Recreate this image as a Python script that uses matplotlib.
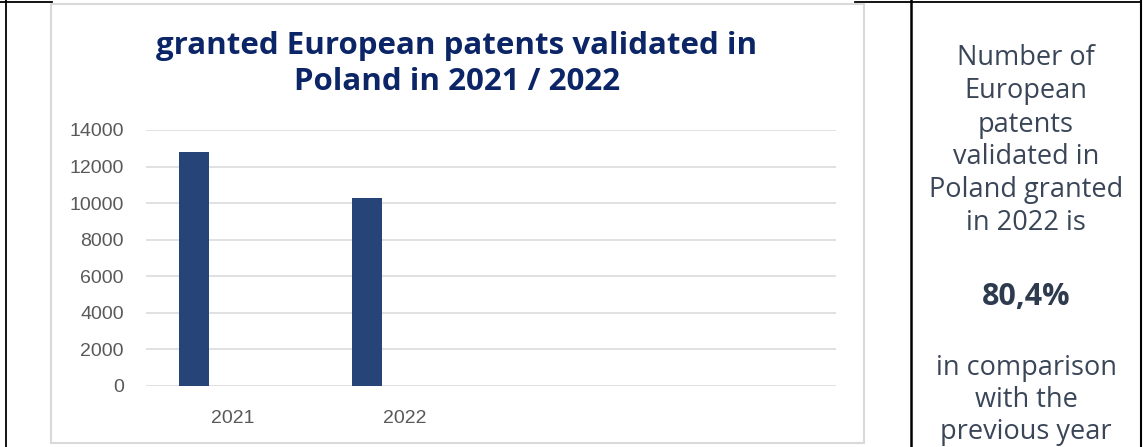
import matplotlib
matplotlib.use("Agg")
import matplotlib.pyplot as plt
from matplotlib.patches import Rectangle
from matplotlib.lines import Line2D

# ---- data ----
categories = ["2021", "2022", "", ""]
values = [12800, 10290]
yticks = [0, 2000, 4000, 6000, 8000, 10000, 12000, 14000]
title = "granted European patents validated in\nPoland in 2021 / 2022"
side_lines_top = ["Number of", "European", "patents", "validated in", "Poland granted", "in 2022 is"]
side_pct = "80,4%"
side_lines_bottom = ["in comparison", "with the", "previous year"]

W, H = 1143, 447
fig = plt.figure(figsize=(W / 100, H / 100), dpi=100)
fig.patch.set_facecolor("white")

def fx(px):
    return px / W

def fy(py):
    return 1 - py / H

# table borders (black)
for (x0, y0, x1, y1, lw) in [
    (6, 0, 6, H, 1.3),
    (911, 0, 911, H, 1.8),
    (1141, 0, 1141, H, 1.5),
    (0, 2, 52, 2, 1.3),
    (855, 2, 1141, 2, 1.3),
]:
    fig.add_artist(Line2D([fx(x0), fx(x1)], [fy(y0), fy(y1)], color="black", lw=lw,
                          transform=fig.transFigure, zorder=-2))

# chart box
fig.add_artist(Rectangle((fx(51), fy(443)), fx(864) - fx(51), fy(4) - fy(443),
                         transform=fig.transFigure, facecolor="white",
                         edgecolor="#d9d9d9", lw=1.5, zorder=-1))

ax = fig.add_axes([fx(146), fy(386), fx(836) - fx(146), fy(130) - fy(386)])
ax.set_zorder(1)
ax.set_facecolor("none")
xs = list(range(len(categories)))
bar_x = [x - 0.22 for x in xs[:len(values)]]
ax.bar(bar_x, values, width=0.174, color="#264478", zorder=3)
ax.set_xlim(-0.5, len(categories) - 0.5)
ax.set_ylim(0, 14000)
ax.set_yticks(yticks)
ax.set_yticklabels([str(v) for v in yticks], fontfamily="Liberation Sans", fontsize=14, color="#595959")
ax.set_xticks(xs)
ax.set_xticklabels(categories, fontfamily="Liberation Sans", fontsize=14, color="#595959")
ax.tick_params(axis="y", length=0, pad=16)
ax.tick_params(axis="x", length=0, pad=17)
ax.grid(axis="y", color="#d9d9d9", lw=1.1, zorder=0)
for s in ax.spines.values():
    s.set_visible(False)

# title
fig.text(fx(457), fy(64), title, ha="center", va="center", fontfamily="Open Sans",
         fontweight="bold", fontsize=22.5, color="#0b2566", linespacing=1.3)

# side text
side_color = "#3a4658"
cx = fx(1026)
top_y = [58, 91, 125, 157, 190, 223]
for t, y in zip(side_lines_top, top_y):
    fig.text(cx, fy(y), t, ha="center", va="center", fontfamily="Open Sans",
             fontweight="normal", fontsize=19.5, color=side_color)
fig.text(cx, fy(297), side_pct, ha="center", va="center", fontfamily="Open Sans",
         fontweight="bold", fontsize=22, color="#2e3b4e")
bot_y = [368, 400, 432]
for t, y in zip(side_lines_bottom, bot_y):
    fig.text(cx, fy(y), t, ha="center", va="center", fontfamily="Open Sans",
             fontweight="normal", fontsize=19.5, color=side_color)

fig.savefig("out.png", dpi=100, facecolor="white")
